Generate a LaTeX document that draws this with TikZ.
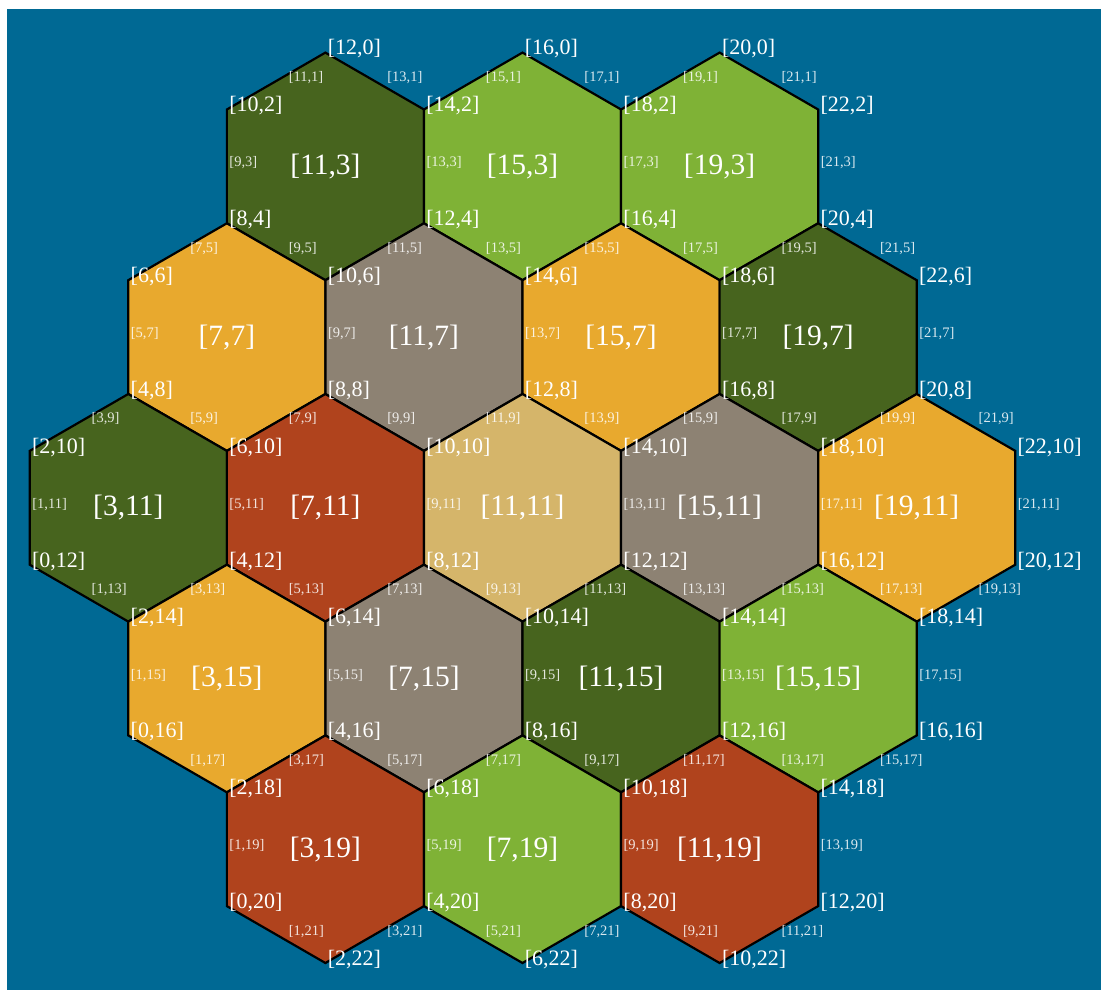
\documentclass[tikz,border=0pt]{standalone}
\usepackage{fontspec}
\setmainfont{Liberation Serif}
\definecolor{seablue}{RGB}{0,105,148}
\definecolor{hexdkg}{RGB}{71,100,30}
\definecolor{hexltg}{RGB}{127,178,54}
\definecolor{hexorg}{RGB}{232,169,46}
\definecolor{hexgry}{RGB}{141,130,115}
\definecolor{hexred}{RGB}{176,67,29}
\definecolor{hextan}{RGB}{213,181,106}
\def\HW{197.1}
\def\HH{98.55}
\def\RR{113.8}
\def\RH{56.9}
\def\RQ{85.35}
\def\QW{49.275}
\newcommand\putv[4]{%
  \pgfmathtruncatemacro\lx{\cx+(#3)}%
  \pgfmathtruncatemacro\ly{\cy+(#4)}%
  \pgfmathsetmacro\qx{\px+(#1)+2.2}%
  \pgfmathsetmacro\qy{\py+(#2)+2.3}%
  \ifcsname vd@\lx @\ly\endcsname\else
    \expandafter\gdef\csname vd@\lx @\ly\endcsname{}%
    \node[vertexlbl] (v-\lx-\ly) at (\qx,\qy) {[\lx,\ly]};
  \fi}
\newcommand\pute[5]{%
  \pgfmathtruncatemacro\lx{\cx+(#3)}%
  \pgfmathtruncatemacro\ly{\cy+(#4)}%
  \pgfmathsetmacro\qx{\px+(#1)+(#5)}%
  \pgfmathsetmacro\qy{\py+(#2)+0.5}%
  \ifcsname ed@\lx @\ly\endcsname\else
    \expandafter\gdef\csname ed@\lx @\ly\endcsname{}%
    \node[edgelbl] (e-\lx-\ly) at (\qx,\qy) {[\lx,\ly]};
  \fi}
\tikzset{
  hexcell/.style={draw=black, line width=2.2pt, line join=miter},
  centerlbl/.style={text=white, font=\fontsize{29.5}{32}\selectfont, inner sep=0pt, anchor=center},
  vertexlbl/.style={text=white, font=\fontsize{22}{24}\selectfont, inner sep=0pt, anchor=base west},
  edgelbl/.style={text=white, text opacity=0.85, font=\fontsize{14.5}{16}\selectfont, inner sep=0pt, anchor=base west},
}
\begin{document}
\begin{tikzpicture}[x=1pt,y=-1pt]
\useasboundingbox (0,0) rectangle (1101,990);
\fill[white] (0,0) rectangle (1101,990);
\fill[seablue] (7,9) rectangle (1101,990);
\def\hexlist{11/3/hexdkg, 15/3/hexltg, 19/3/hexltg,
  7/7/hexorg, 11/7/hexgry, 15/7/hexorg, 19/7/hexdkg,
  3/11/hexdkg, 7/11/hexred, 11/11/hextan, 15/11/hexgry, 19/11/hexorg,
  3/15/hexorg, 7/15/hexgry, 11/15/hexdkg, 15/15/hexltg,
  3/19/hexred, 7/19/hexltg, 11/19/hexred}
\foreach \cx/\cy/\col in \hexlist {
  \pgfmathsetmacro\px{128.3 + (\cx-3)/4*\HW + (\cy-11)/8*\HW}
  \pgfmathsetmacro\py{507.8 + (\cy-11)/4*1.5*\RR}
  \filldraw[hexcell, fill=\col] (\px,\py-\RR) -- (\px+\HH,\py-\RH) -- (\px+\HH,\py+\RH)
    -- (\px,\py+\RR) -- (\px-\HH,\py+\RH) -- (\px-\HH,\py-\RH) -- cycle;
}
\foreach \cx/\cy/\col in \hexlist {
  \pgfmathsetmacro\px{128.3 + (\cx-3)/4*\HW + (\cy-11)/8*\HW}
  \pgfmathsetmacro\py{507.8 + (\cy-11)/4*1.5*\RR}
  \node[centerlbl] (h-\cx-\cy) at (\px,\py) {[\cx,\cy]};
  \putv{0}{-\RR}{1}{-3}
  \putv{-\HH}{-\RH}{-1}{-1}
  \putv{\HH}{-\RH}{3}{-1}
  \putv{-\HH}{\RH}{-3}{1}
  \putv{\HH}{\RH}{1}{1}
  \putv{0}{\RR}{-1}{3}
  \pute{-\QW}{-\RQ}{0}{-2}{12.5}
  \pute{\QW}{-\RQ}{2}{-2}{12.5}
  \pute{-\HH}{0}{-2}{0}{2.4}
  \pute{\HH}{0}{2}{0}{2.4}
  \pute{-\QW}{\RQ}{-2}{2}{12.5}
  \pute{\QW}{\RQ}{0}{2}{12.5}
}
\end{tikzpicture}
\end{document}
